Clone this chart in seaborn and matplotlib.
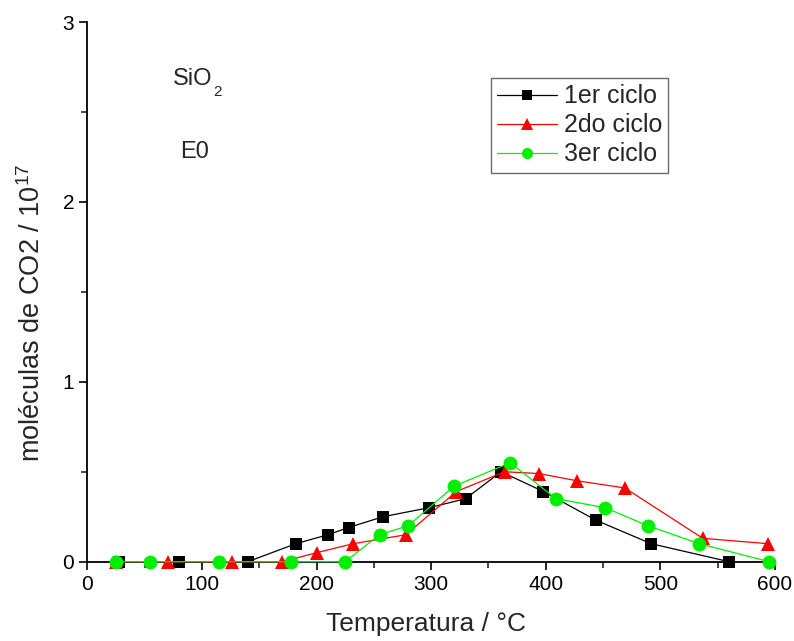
import matplotlib
matplotlib.use("Agg")
import matplotlib.pyplot as plt
import seaborn as sns
import numpy as np
from matplotlib.ticker import MultipleLocator

sns.set_style("ticks")
plt.rcParams['font.family'] = ['Liberation Sans', 'DejaVu Sans']
plt.rcParams['mathtext.fontset'] = 'custom'
plt.rcParams['mathtext.rm'] = 'Liberation Sans'
plt.rcParams['mathtext.it'] = 'Liberation Sans'

t1 = [28, 80, 140, 182, 210, 228, 258, 298, 330, 361, 398, 444, 492, 560]
y1 = [0, 0, 0, 0.10, 0.15, 0.19, 0.25, 0.30, 0.35, 0.50, 0.39, 0.23, 0.10, 0]
t2 = [25, 70, 126, 170, 200, 232, 278, 322, 364, 394, 427, 469, 537, 594]
y2 = [0, 0, 0, 0, 0.05, 0.10, 0.15, 0.39, 0.50, 0.49, 0.45, 0.41, 0.13, 0.10]
t3 = [25, 55, 115, 178, 225, 255, 280, 320, 369, 409, 452, 489, 534, 595]
y3 = [0, 0, 0, 0, 0, 0.15, 0.20, 0.42, 0.55, 0.35, 0.30, 0.20, 0.10, 0]
labels = ["1er ciclo", "2do ciclo", "3er ciclo"]

L, R, T, B = 87.3, 775.0, 22.0, 561.7
fig = plt.figure(figsize=(7.94, 6.41), dpi=100)
ax = fig.add_axes([L/794, 1-B/641, (R-L)/794, (B-T)/641])

specs = [(t1, y1, 's', 'black', 8.5), (t2, y2, '^', '#ff0000', 10), (t3, y3, 'o', '#00ee00', 10)]
for (t, y, m, c, ms), lab in zip(specs, labels):
    sns.lineplot(x=t, y=y, ax=ax, marker=m, color=c, markersize=ms, linewidth=0.9,
                 markeredgewidth=0, label=lab, clip_on=False, zorder=3)

ax.set_xlim(0, 600)
ax.set_ylim(0, 3)
ax.xaxis.set_major_locator(MultipleLocator(100))
ax.xaxis.set_minor_locator(MultipleLocator(50))
ax.yaxis.set_major_locator(MultipleLocator(1))
ax.yaxis.set_minor_locator(MultipleLocator(0.5))
ax.tick_params(which='major', direction='out', length=6, width=1.2, labelsize=15, colors='black')
ax.tick_params(which='minor', direction='out', length=4, width=1.2)
for s in ['top', 'right']:
    ax.spines[s].set_visible(False)
for s in ['left', 'bottom']:
    ax.spines[s].set_linewidth(1.3)
    ax.spines[s].set_color('black')

ax.set_xlabel("Temperatura / °C", fontsize=19, labelpad=13)
ax.set_ylabel("moléculas de CO2 / 10$^{17}$", fontsize=19.5, labelpad=12)
ax.xaxis.label.set_x(0.492)
ax.yaxis.label.set_y(0.462)

ax.text(74.7, 2.648, "SiO", fontsize=17, va='baseline')
ax.text(109.5, 2.587, "2", fontsize=11, va='baseline')
ax.text(80.8, 2.243, "E0", fontsize=17, va='baseline')

leg = ax.legend(loc='upper left', bbox_to_anchor=((491-L)/(R-L), (B-78)/(B-T)),
                fontsize=18, frameon=True, fancybox=False, edgecolor='#444444',
                markerscale=0.8, handlelength=2.4, borderpad=0.25, labelspacing=0.2,
                handletextpad=0.25, borderaxespad=0)
leg.get_frame().set_linewidth(1.0)

fig.savefig("out.png", dpi=100)
